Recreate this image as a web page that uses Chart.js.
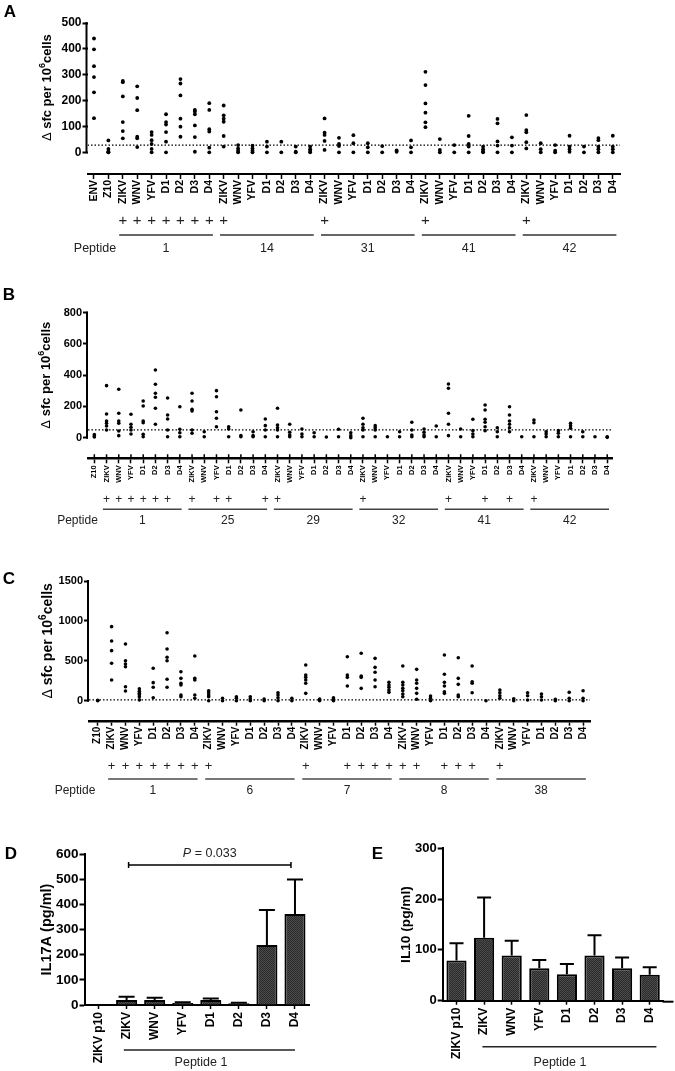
<!DOCTYPE html>
<html><head><meta charset="utf-8">
<script src="https://cdn.jsdelivr.net/npm/chart.js@4.4.1/dist/chart.umd.min.js"></script>
<style>
html,body{margin:0;padding:0;background:#fff;}
#wrap{position:relative;width:675px;height:1071px;overflow:hidden;background:#fff;}
canvas{position:absolute;}
</style></head><body><div id="wrap">
<canvas id="cA" width="675" height="290" style="left:0;top:0;width:675px;height:290px"></canvas>
<canvas id="cB" width="675" height="286" style="left:0;top:284px;width:675px;height:286px"></canvas>
<canvas id="cC" width="675" height="265" style="left:0;top:570px;width:675px;height:265px"></canvas>
<canvas id="cD" width="335" height="236" style="left:0;top:835px;width:335px;height:236px"></canvas>
<canvas id="cE" width="340" height="236" style="left:335px;top:835px;width:340px;height:236px"></canvas>
</div>
<script>
// ---------------- DATA ----------------
const VIRUSES = ['ZIKV','WNV','YFV','D1','D2','D3','D4'];

// Panel A
const A_GROUPS = ['1','14','31','41','42'];
const A_CONTROLS = ['ENV','Z10'];
const A_ENV = [440,398,333,291,232,132];
const A_Z10 = [46,13,3,0,0];
const A_PEP1 = [[276,271,216,117,82,54],[255,210,163,60,54,20],[78,67,47,32,13,0],[147,117,107,78,41,0],[283,266,220,130,99,60],[164,158,147,104,59,2],[190,164,89,80,18,0]];
const A_PEP14 = [[181,143,130,118,63,22],[28,15,6,0],[26,15,6,0],[41,22,0],[41,0],[22,2,0],[22,12,5,0]];
const A_PEP31 = [[131,76,67,44,9],[56,32,24,0],[66,35,0],[35,19,0],[24,0],[7,2],[46,19,0]];
const A_PEP41 = [[311,260,189,153,116,97],[51,9,0],[28,0],[141,63,32,22,0],[22,12,4,0],[129,112,42,26,0],[58,26,0]];
const A_PEP42 = [[144,86,77,39,15],[35,12,0],[28,6,0],[64,22,12,2],[22,0],[55,47,22,12,0],[64,22,12,0]];
const A_PLUS = [2,3,4,5,6,7,8,9,16,23,30];
const A_THRESHOLD = 28;
const A_Y_TICKS = [0,100,200,300,400,500];

// Panel B
const B_GROUPS = ['1','25','29','32','41','42'];
const B_CONTROLS = ['Z10'];
const B_Z10 = [20,10,5];
const B_PEP1 = [[333,152,107,92,75,49],[310,156,107,92,43,13],[150,86,67,49,24],[235,203,107,96,22,6],[433,342,284,259,188,86],[254,145,120,49,6],[198,54,32,6]];
const B_PEP25 = [[284,235,182,171,49,28],[38,6],[301,262,166,124,70],[70,56,6],[177,13,6],[38,13,6],[120,77,49,6]];
const B_PEP29 = [[188,81,64,49,6],[86,35,17,6],[56,24,6],[32,6],[4],[54,6],[32,13,0]];
const B_PEP32 = [[124,86,64,49,6],[77,64,49,6],[6],[38,6],[99,49,17,6],[56,35,17,6],[75,6]];
const B_PEP41 = [[344,316,156,86,13],[56,6],[118,45,24,6],[209,177,118,99,70,45],[64,38,6],[198,145,107,86,64,38],[6]];
const B_PEP42 = [[113,96,6],[38,24,6],[45,28,6],[92,77,60,6],[38,6],[6],[6,2]];
const B_PLUS = [1,2,3,4,5,6,8,10,11,14,15,22,29,32,34,36];
const B_THRESHOLD = 50;
const B_Y_TICKS = [0,200,400,600,800];

// Panel C
const C_GROUPS = ['1','6','7','8','38'];
const C_CONTROLS = ['Z10'];
const C_Z10 = [0,5];
const C_PEP1 = [[928,748,627,469,259],[711,501,460,426,175,122],[150,120,95,75,50,10],[406,226,168,38],[852,648,544,501,268,168],[363,280,218,197,71,50],[560,280,259,71,30]];
const C_PEP6 = [[125,100,71,50,0],[30,0],[50,30,0],[50,20,0],[20,0],[100,71,38,0],[30,0]];
const C_PEP7 = [[447,322,293,259,218,92],[20,0],[38,20,0],[551,322,293,184],[594,309,293,155],[531,418,356,259,175],[230,197,168,134,105]];
const C_PEP8 = [[435,230,197,155,125,84,50],[393,259,218,155,92,18],[59,30,0],[573,331,230,184,113,92],[539,280,205,71,50],[435,238,218,100],[0]];
const C_PEP38 = [[134,100,63,30],[25,0],[100,63,8],[84,50,8],[17,0],[105,30,0],[125,30,0]];
const C_PLUS = [1,2,3,4,5,6,7,8,15,18,19,20,21,22,23,25,26,27,29];
const C_THRESHOLD = 10;
const C_Y_TICKS = [0,500,1000,1500];

// Panel D (IL17A) and E (IL10)
const DE_CATEGORIES = ['ZIKV p10','ZIKV','WNV','YFV','D1','D2','D3','D4'];
const D_MEANS = [3,20,20,8,20,7,238,362];
const D_ERR_TOP = [3,33,29,11,26,9,377,499];
const D_Y_TICKS = [0,100,200,300,400,500,600];
const D_PVALUE = '0.033';
const E_MEANS = [79,124,89,64,52,89,64,51];
const E_ERR_TOP = [113,203,118,80,72,129,85,66];
const E_Y_TICKS = [0,100,200,300];

// ---------------- RENDER ----------------
const FONT = "'Liberation Sans', Arial, Helvetica, sans-serif";
Chart.defaults.font.family = FONT;
Chart.defaults.color = '#000';

function drawSfcTitle(ctx, cx, cy, size) {
  ctx.save();
  ctx.translate(cx, cy); ctx.rotate(-Math.PI / 2);
  const main = `bold ${size}px ${FONT}`, sup = `bold ${Math.round(size * 0.68)}px ${FONT}`;
  const delta = '\u0394 ', t1 = 'sfc per 10', t2 = '6', t3 = 'cells';
  ctx.font = `${size}px ${FONT}`; const w0 = ctx.measureText(delta).width;
  ctx.font = main; const w1 = ctx.measureText(t1).width, w3 = ctx.measureText(t3).width;
  ctx.font = sup; const w2 = ctx.measureText(t2).width;
  let x = -(w0 + w1 + w2 + w3) / 2;
  ctx.textAlign = 'left'; ctx.textBaseline = 'alphabetic'; ctx.fillStyle = '#000';
  const base = size * 0.36;
  ctx.font = `${size}px ${FONT}`; ctx.fillText(delta, x, base); x += w0;
  ctx.font = main; ctx.fillText(t1, x, base); x += w1;
  ctx.font = sup; ctx.fillText(t2, x, base - size * 0.42); x += w2;
  ctx.font = main; ctx.fillText(t3, x, base);
  ctx.restore();
}

function scatterChart(P, L) {
  const cats = P.categories;
  const pts = [];
  P.columns.forEach((vals, i) => vals.forEach(v => pts.push({ x: i, y: v })));
  const yMax = P.yTicks[P.yTicks.length - 1];
  const annot = {
    id: 'annot' + L.id,
    afterDraw(chart) {
      const ctx = chart.ctx, xs = chart.scales.x, ys = chart.scales.y, ca = chart.chartArea;
      ctx.save();
      const y0 = ys.getPixelForValue(0), y1 = ys.getPixelForValue(yMax);
      ctx.strokeStyle = '#000'; ctx.lineWidth = 2;
      ctx.beginPath(); ctx.moveTo(ca.left - 1, y0 + 1); ctx.lineTo(ca.left - 1, y1 - 1); ctx.stroke();
      if (L.upTick) {
        ctx.lineWidth = 1.5;
        ctx.beginPath();
        cats.forEach((c, i) => { const px = xs.getPixelForValue(i); ctx.moveTo(px, ca.bottom); ctx.lineTo(px, ca.bottom - L.upTick); });
        ctx.stroke();
      }
      ctx.fillStyle = '#000'; ctx.textAlign = 'center'; ctx.textBaseline = 'middle';
      ctx.font = `bold 17px ${FONT}`;
      ctx.fillText(L.letter, L.letterX, L.letterY);
      drawSfcTitle(ctx, L.titleX, (y0 + y1) / 2, L.titleFont);
      ctx.fillStyle = '#222';
      ctx.font = `${L.plusFont}px ${FONT}`;
      P.plus.forEach(i => ctx.fillText('+', xs.getPixelForValue(i), L.plusY));
      ctx.strokeStyle = L.lineColor; ctx.lineWidth = L.lineWidth;
      ctx.font = `${L.labelFont}px ${FONT}`;
      P.groups.forEach((g, k) => {
        const s = P.firstIdx + 7 * k, e = s + 6;
        const xa = xs.getPixelForValue(s - L.lineA), xb = xs.getPixelForValue(e + L.lineB);
        ctx.beginPath(); ctx.moveTo(xa, L.lineY); ctx.lineTo(xb, L.lineY); ctx.stroke();
        ctx.fillText(g, (xa + xb) / 2, L.labelY);
      });
      ctx.fillText('Peptide', L.peptideX, L.labelY);
      ctx.restore();
    }
  };
  return new Chart(document.getElementById(L.id), {
    type: 'scatter',
    data: { datasets: [
      { type: 'line', data: [{ x: L.xMin, y: P.threshold }, { x: L.xMax, y: P.threshold }],
        borderColor: '#000', borderWidth: 1.2, borderDash: [1.5, 2], pointRadius: 0, fill: false, order: 2 },
      { type: 'scatter', data: pts, pointRadius: L.dot, pointBackgroundColor: '#000', backgroundColor: '#000', borderWidth: 0, pointBorderWidth: 0, order: 1 }
    ]},
    options: {
      responsive: false, animation: false, events: [],
      layout: { padding: { left: 0, top: L.top, right: L.W - L.right, bottom: 0 } },
      plugins: { legend: { display: false }, tooltip: { enabled: false } },
      scales: {
        x: {
          type: 'linear', min: L.xMin, max: L.xMax,
          afterBuildTicks: s => { s.ticks = cats.map((c, i) => ({ value: i })); },
          afterFit: s => { s.height = L.H - L.bottom; },
          ticks: { autoSkip: false, minRotation: 90, maxRotation: 90, padding: L.xPad,
                   font: { size: L.xFont, weight: 'bold' }, color: '#000', callback: v => cats[v] },
          grid: { drawOnChartArea: false, drawTicks: true, tickLength: L.xTick, tickWidth: 1.5, tickColor: '#000' },
          border: { display: true, color: '#000', width: L.xBorder }
        },
        y: {
          type: 'linear', min: L.yMin, max: yMax,
          afterBuildTicks: s => { s.ticks = P.yTicks.map(v => ({ value: v })); },
          afterFit: s => { s.width = L.left; },
          ticks: { padding: 1, font: { size: L.yFont, weight: 'bold' }, color: '#000', callback: v => String(v) },
          grid: { drawOnChartArea: false, drawTicks: true, tickLength: 5, tickWidth: 2, tickColor: '#000' },
          border: { display: false }
        }
      }
    },
    plugins: [annot]
  });
}

// Panel A
scatterChart({
  categories: A_CONTROLS.concat(...A_GROUPS.map(() => VIRUSES)),
  columns: [A_ENV, A_Z10, ...A_PEP1, ...A_PEP14, ...A_PEP31, ...A_PEP41, ...A_PEP42],
  groups: A_GROUPS, plus: A_PLUS, threshold: A_THRESHOLD, yTicks: A_Y_TICKS, firstIdx: 2
}, { id: 'cA', W: 675, H: 290, left: 87.5, right: 620, top: 23, bottom: 174, xMin: -0.45, xMax: 36.5, yMin: -84,
     dot: 1.9, xFont: 10.5, yFont: 12, xPad: 1, xTick: 5, xBorder: 2,
     letter: 'A', letterX: 10, letterY: 12, titleX: 46, titleFont: 13,
     plusY: 221, plusFont: 15, lineY: 235, labelY: 248.5, labelFont: 12.5, peptideX: 95,
     lineA: 0.25, lineB: 0.25, lineColor: '#333', lineWidth: 1.5 });

// Panel B
scatterChart({
  categories: B_CONTROLS.concat(...B_GROUPS.map(() => VIRUSES)),
  columns: [B_Z10, ...B_PEP1, ...B_PEP25, ...B_PEP29, ...B_PEP32, ...B_PEP41, ...B_PEP42],
  groups: B_GROUPS, plus: B_PLUS, threshold: B_THRESHOLD, yTicks: B_Y_TICKS, firstIdx: 1
}, { id: 'cB', W: 675, H: 286, left: 88, right: 612.7, top: 28.7, bottom: 174.3, xMin: -0.52, xMax: 42.45, yMin: -132,
     dot: 1.8, xFont: 7.5, yFont: 11, xPad: 2, xTick: 5, xBorder: 2.5, upTick: 4,
     letter: 'B', letterX: 9, letterY: 11, titleX: 45, titleFont: 13,
     plusY: 216, plusFont: 12, lineY: 225.3, labelY: 236.7, labelFont: 12, peptideX: 77.5,
     lineA: 0.3, lineB: 0.15, lineColor: '#444', lineWidth: 1.5 });

// Panel C
scatterChart({
  categories: C_CONTROLS.concat(...C_GROUPS.map(() => VIRUSES)),
  columns: [C_Z10, ...C_PEP1, ...C_PEP6, ...C_PEP7, ...C_PEP8, ...C_PEP38],
  groups: C_GROUPS, plus: C_PLUS, threshold: C_THRESHOLD, yTicks: C_Y_TICKS, firstIdx: 1
}, { id: 'cC', W: 675, H: 265, left: 89, right: 590, top: 11, bottom: 151.7, xMin: -0.63, xMax: 35.5, yMin: -263,
     dot: 1.8, xFont: 10, yFont: 11, xPad: 1, xTick: 4, xBorder: 2.5,
     letter: 'C', letterX: 9, letterY: 9.5, titleX: 47, titleFont: 14,
     plusY: 196.7, plusFont: 13, lineY: 209, labelY: 221, labelFont: 12, peptideX: 75,
     lineA: 0.25, lineB: 0.2, lineColor: '#777', lineWidth: 2 });

function barChart(means, errTop, yTicks, L) {
  const canvas = document.getElementById(L.id);
  const pc = document.createElement('canvas'); pc.width = 2; pc.height = 2;
  const pg = pc.getContext('2d');
  pg.fillStyle = '#2a2a2a'; pg.fillRect(0, 0, 2, 2);
  pg.fillStyle = '#4c4c4c'; pg.fillRect(0, 0, 1, 1); pg.fillRect(1, 1, 1, 1);
  const pattern = canvas.getContext('2d').createPattern(pc, 'repeat');
  const yMax = yTicks[yTicks.length - 1];
  const annot = {
    id: 'annot' + L.id,
    afterDatasetsDraw(chart) {
      const ctx = chart.ctx, ys = chart.scales.y;
      const meta = chart.getDatasetMeta(0);
      ctx.save(); ctx.strokeStyle = '#000'; ctx.lineWidth = 2;
      meta.data.forEach((bar, i) => {
        if (errTop[i] <= means[i]) return;
        const yt = ys.getPixelForValue(errTop[i]);
        ctx.beginPath(); ctx.moveTo(bar.x, bar.y); ctx.lineTo(bar.x, yt);
        ctx.moveTo(bar.x - L.cap, yt); ctx.lineTo(bar.x + L.cap, yt); ctx.stroke();
      });
      ctx.restore();
    },
    afterDraw(chart) {
      const ctx = chart.ctx, xs = chart.scales.x, ys = chart.scales.y, ca = chart.chartArea;
      ctx.save();
      if (L.axisExtend) {
        ctx.strokeStyle = '#000'; ctx.lineWidth = 2;
        ctx.beginPath(); ctx.moveTo(ca.right - 1, ca.bottom + 1); ctx.lineTo(ca.right + L.axisExtend, ca.bottom + 1); ctx.stroke();
      }
      ctx.fillStyle = '#000'; ctx.textAlign = 'center'; ctx.textBaseline = 'middle';
      ctx.font = `bold 17px ${FONT}`;
      ctx.fillText(L.letter, L.letterX, L.letterY);
      ctx.strokeStyle = '#222'; ctx.lineWidth = 1.5;
      const xa = xs.getPixelForValue(1) - L.lineA * 28, xb = xs.getPixelForValue(7) + L.lineB * 28;
      ctx.beginPath(); ctx.moveTo(xa, L.lineY); ctx.lineTo(xb, L.lineY); ctx.stroke();
      ctx.fillStyle = '#222'; ctx.font = `12.5px ${FONT}`;
      ctx.fillText('Peptide 1', L.peptideX, L.labelY);
      if (L.pvalue) {
        const by = ys.getPixelForValue(L.pvalue.y);
        const bx1 = xs.getPixelForValue(1) + 2, bx2 = xs.getPixelForValue(7) - 4;
        ctx.strokeStyle = '#000'; ctx.lineWidth = 1.5;
        ctx.beginPath(); ctx.moveTo(bx1, by); ctx.lineTo(bx2, by);
        ctx.moveTo(bx1, by - 3); ctx.lineTo(bx1, by + 3);
        ctx.moveTo(bx2, by - 3); ctx.lineTo(bx2, by + 3); ctx.stroke();
        const it = `italic 12.5px ${FONT}`, rg = `12.5px ${FONT}`;
        const s1 = 'P', s2 = ' = ' + L.pvalue.text;
        ctx.font = it; const w1 = ctx.measureText(s1).width;
        ctx.font = rg; const w2 = ctx.measureText(s2).width;
        let x = (bx1 + bx2) / 2 - (w1 + w2) / 2;
        ctx.textAlign = 'left'; ctx.fillStyle = '#222';
        ctx.font = it; ctx.fillText(s1, x, by - 12); x += w1;
        ctx.font = rg; ctx.fillText(s2, x, by - 12);
      }
      ctx.restore();
    }
  };
  return new Chart(canvas, {
    type: 'bar',
    data: { labels: DE_CATEGORIES, datasets: [{
      data: means, backgroundColor: pattern, borderColor: '#000', borderWidth: 2,
      barPercentage: L.barPct, categoryPercentage: 1
    }]},
    options: {
      responsive: false, animation: false, events: [],
      layout: { padding: { left: 0, top: L.top, right: L.W - L.right, bottom: 0 } },
      plugins: { legend: { display: false }, tooltip: { enabled: false } },
      scales: {
        x: {
          type: 'category', offset: true,
          afterFit: s => { s.height = L.H - L.bottom; },
          ticks: { autoSkip: false, minRotation: 90, maxRotation: 90, padding: 3, font: { size: 12, weight: 'bold' }, color: '#000' },
          grid: { offset: false, drawOnChartArea: false, drawTicks: true, tickLength: 4, tickWidth: 1.5, tickColor: '#000' },
          border: { display: true, color: '#000', width: 2 }
        },
        y: {
          type: 'linear', min: 0, max: yMax,
          afterBuildTicks: s => { s.ticks = yTicks.map(v => ({ value: v })); },
          afterFit: s => { s.width = L.left; },
          ticks: { padding: 1, font: { size: L.yFont, weight: 'bold' }, color: '#000', callback: v => String(v) },
          grid: { drawOnChartArea: false, drawTicks: true, tickLength: 5, tickWidth: 2, tickColor: '#000' },
          border: { display: true, color: '#000', width: 2 },
          title: { display: true, text: L.yTitle, font: { size: L.titleFont, weight: 'bold' }, color: '#000', padding: { top: L.titlePad, bottom: 0 } }
        }
      }
    },
    plugins: [annot]
  });
}

barChart(D_MEANS, D_ERR_TOP, D_Y_TICKS, {
  id: 'cD', W: 335, H: 236, left: 84.5, right: 309, top: 19, bottom: 170, barPct: 0.75, cap: 8,
  yFont: 13.5, yTitle: 'IL17A (pg/ml)', titleFont: 14.5, titlePad: 38,
  letter: 'D', letterX: 11, letterY: 19, lineY: 215, lineA: 0.1, lineB: 0, labelY: 228, peptideX: 201,
  pvalue: { y: 556, text: D_PVALUE }
});
barChart(E_MEANS, E_ERR_TOP, E_Y_TICKS, {
  id: 'cE', W: 340, H: 236, left: 107.7, right: 328.5, top: 13.3, bottom: 165.7, barPct: 0.73, cap: 7,
  yFont: 13, yTitle: 'IL10 (pg/ml)', titleFont: 13.7, titlePad: 63, axisExtend: 10,
  letter: 'E', letterX: 42.5, letterY: 19.5, lineY: 211.7, lineA: 0.06, lineB: 0.24, labelY: 228, peptideX: 225
});
</script></body></html>
